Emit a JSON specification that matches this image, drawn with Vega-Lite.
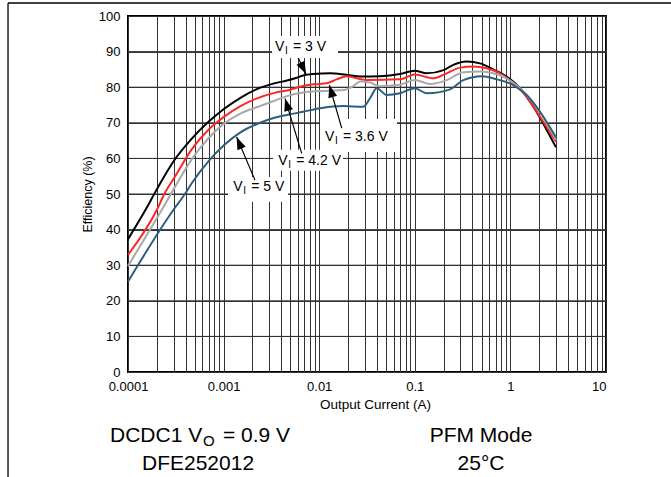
{
  "$schema": "https://vega.github.io/schema/vega-lite/v6.json",
  "width": 478,
  "height": 356,
  "autosize": {"type": "none"},
  "padding": {"left": 128, "top": 16, "right": 65, "bottom": 105},
  "background": "white",
  "config": {
    "font": "Liberation Sans",
    "view": {"stroke": "black", "strokeWidth": 2},
    "axis": {"labelColor": "black", "titleColor": "black", "titleFontWeight": "normal", "labelFont": "Liberation Sans", "titleFont": "Liberation Sans"}
  },
  "datasets": {
    "curves": [
      {"vi": "3 V", "x": 0.0001, "y": 37.3}, {"vi": "3 V", "x": 0.00015, "y": 45.2}, {"vi": "3 V", "x": 0.0002, "y": 51.3}, {"vi": "3 V", "x": 0.0003, "y": 59.2}, {"vi": "3 V", "x": 0.00046, "y": 65.4}, {"vi": "3 V", "x": 0.00069, "y": 70.2}, {"vi": "3 V", "x": 0.001, "y": 73.8}, {"vi": "3 V", "x": 0.0015, "y": 77.0}, {"vi": "3 V", "x": 0.0022, "y": 79.4}, {"vi": "3 V", "x": 0.0033, "y": 81.0}, {"vi": "3 V", "x": 0.0046, "y": 81.9}, {"vi": "3 V", "x": 0.0057, "y": 82.6}, {"vi": "3 V", "x": 0.0068, "y": 83.3}, {"vi": "3 V", "x": 0.0087, "y": 83.7}, {"vi": "3 V", "x": 0.013, "y": 83.9}, {"vi": "3 V", "x": 0.019, "y": 83.5}, {"vi": "3 V", "x": 0.027, "y": 83.0}, {"vi": "3 V", "x": 0.043, "y": 83.1}, {"vi": "3 V", "x": 0.07, "y": 83.7}, {"vi": "3 V", "x": 0.1, "y": 84.6}, {"vi": "3 V", "x": 0.133, "y": 83.9}, {"vi": "3 V", "x": 0.2, "y": 84.8}, {"vi": "3 V", "x": 0.25, "y": 86.2}, {"vi": "3 V", "x": 0.35, "y": 87.2}, {"vi": "3 V", "x": 0.48, "y": 86.7}, {"vi": "3 V", "x": 0.66, "y": 85.0}, {"vi": "3 V", "x": 0.91, "y": 83.0}, {"vi": "3 V", "x": 1.26, "y": 79.7}, {"vi": "3 V", "x": 1.74, "y": 74.5}, {"vi": "3 V", "x": 2.4, "y": 68.0}, {"vi": "3 V", "x": 3.0, "y": 63.1},
      {"vi": "3.6 V", "x": 0.0001, "y": 32.9}, {"vi": "3.6 V", "x": 0.0002, "y": 45.5}, {"vi": "3.6 V", "x": 0.00024, "y": 50.0}, {"vi": "3.6 V", "x": 0.00031, "y": 54.9}, {"vi": "3.6 V", "x": 0.00046, "y": 62.4}, {"vi": "3.6 V", "x": 0.00069, "y": 68.0}, {"vi": "3.6 V", "x": 0.001, "y": 71.6}, {"vi": "3.6 V", "x": 0.0015, "y": 74.7}, {"vi": "3.6 V", "x": 0.0022, "y": 76.8}, {"vi": "3.6 V", "x": 0.0034, "y": 78.4}, {"vi": "3.6 V", "x": 0.005, "y": 79.3}, {"vi": "3.6 V", "x": 0.0063, "y": 80.1}, {"vi": "3.6 V", "x": 0.0087, "y": 80.8}, {"vi": "3.6 V", "x": 0.012, "y": 81.1}, {"vi": "3.6 V", "x": 0.0152, "y": 82.2}, {"vi": "3.6 V", "x": 0.0194, "y": 83.1}, {"vi": "3.6 V", "x": 0.0247, "y": 82.5}, {"vi": "3.6 V", "x": 0.0314, "y": 82.0}, {"vi": "3.6 V", "x": 0.07, "y": 82.2}, {"vi": "3.6 V", "x": 0.1, "y": 83.6}, {"vi": "3.6 V", "x": 0.156, "y": 82.5}, {"vi": "3.6 V", "x": 0.216, "y": 83.9}, {"vi": "3.6 V", "x": 0.297, "y": 85.5}, {"vi": "3.6 V", "x": 0.409, "y": 85.8}, {"vi": "3.6 V", "x": 0.565, "y": 85.3}, {"vi": "3.6 V", "x": 0.778, "y": 83.9}, {"vi": "3.6 V", "x": 1.07, "y": 81.1}, {"vi": "3.6 V", "x": 1.48, "y": 77.3}, {"vi": "3.6 V", "x": 2.04, "y": 71.7}, {"vi": "3.6 V", "x": 3.0, "y": 64.7},
      {"vi": "4.2 V", "x": 0.0001, "y": 29.8}, {"vi": "4.2 V", "x": 0.000225, "y": 45.5}, {"vi": "4.2 V", "x": 0.00031, "y": 52.0}, {"vi": "4.2 V", "x": 0.00046, "y": 59.6}, {"vi": "4.2 V", "x": 0.00069, "y": 65.6}, {"vi": "4.2 V", "x": 0.001, "y": 69.7}, {"vi": "4.2 V", "x": 0.0015, "y": 72.6}, {"vi": "4.2 V", "x": 0.0023, "y": 74.5}, {"vi": "4.2 V", "x": 0.0034, "y": 76.2}, {"vi": "4.2 V", "x": 0.0046, "y": 77.5}, {"vi": "4.2 V", "x": 0.0068, "y": 78.5}, {"vi": "4.2 V", "x": 0.0102, "y": 78.9}, {"vi": "4.2 V", "x": 0.0179, "y": 79.2}, {"vi": "4.2 V", "x": 0.0227, "y": 80.3}, {"vi": "4.2 V", "x": 0.0267, "y": 81.6}, {"vi": "4.2 V", "x": 0.034, "y": 81.3}, {"vi": "4.2 V", "x": 0.043, "y": 80.3}, {"vi": "4.2 V", "x": 0.07, "y": 80.7}, {"vi": "4.2 V", "x": 0.1, "y": 82.0}, {"vi": "4.2 V", "x": 0.144, "y": 80.9}, {"vi": "4.2 V", "x": 0.216, "y": 82.0}, {"vi": "4.2 V", "x": 0.322, "y": 84.2}, {"vi": "4.2 V", "x": 0.481, "y": 84.4}, {"vi": "4.2 V", "x": 0.662, "y": 83.9}, {"vi": "4.2 V", "x": 0.914, "y": 82.5}, {"vi": "4.2 V", "x": 1.26, "y": 79.7}, {"vi": "4.2 V", "x": 1.74, "y": 75.5}, {"vi": "4.2 V", "x": 2.4, "y": 69.9}, {"vi": "4.2 V", "x": 3.0, "y": 65.2},
      {"vi": "5 V", "x": 0.0001, "y": 25.4}, {"vi": "5 V", "x": 0.000298, "y": 45.5}, {"vi": "5 V", "x": 0.000394, "y": 50.0}, {"vi": "5 V", "x": 0.000464, "y": 53.0}, {"vi": "5 V", "x": 0.00069, "y": 59.1}, {"vi": "5 V", "x": 0.001, "y": 63.6}, {"vi": "5 V", "x": 0.0015, "y": 67.3}, {"vi": "5 V", "x": 0.0023, "y": 69.8}, {"vi": "5 V", "x": 0.0034, "y": 71.4}, {"vi": "5 V", "x": 0.0046, "y": 72.2}, {"vi": "5 V", "x": 0.0068, "y": 73.1}, {"vi": "5 V", "x": 0.0102, "y": 74.1}, {"vi": "5 V", "x": 0.0179, "y": 74.7}, {"vi": "5 V", "x": 0.0289, "y": 74.5}, {"vi": "5 V", "x": 0.034, "y": 76.9}, {"vi": "5 V", "x": 0.04, "y": 79.7}, {"vi": "5 V", "x": 0.0508, "y": 77.8}, {"vi": "5 V", "x": 0.07, "y": 78.3}, {"vi": "5 V", "x": 0.1, "y": 79.7}, {"vi": "5 V", "x": 0.133, "y": 78.3}, {"vi": "5 V", "x": 0.234, "y": 79.4}, {"vi": "5 V", "x": 0.322, "y": 82.0}, {"vi": "5 V", "x": 0.501, "y": 83.1}, {"vi": "5 V", "x": 0.719, "y": 82.2}, {"vi": "5 V", "x": 1.07, "y": 80.6}, {"vi": "5 V", "x": 1.48, "y": 77.8}, {"vi": "5 V", "x": 2.04, "y": 73.1}, {"vi": "5 V", "x": 3.0, "y": 65.9}
    ],
    "hgrid": [
      {"x": 0.0001, "x2": 10, "y": 10, "y2": 10}, {"x": 0.0001, "x2": 10, "y": 20, "y2": 20}, {"x": 0.0001, "x2": 10, "y": 30, "y2": 30},
      {"x": 0.0001, "x2": 10, "y": 40, "y2": 40}, {"x": 0.0001, "x2": 10, "y": 50, "y2": 50}, {"x": 0.0001, "x2": 10, "y": 60, "y2": 60},
      {"x": 0.0001, "x2": 10, "y": 70, "y2": 70}, {"x": 0.0001, "x2": 10, "y": 80, "y2": 80}, {"x": 0.0001, "x2": 10, "y": 90, "y2": 90}
    ],
    "boxes": [
      {"x": 0.00321, "x2": 0.01574, "y": 88.2, "y2": 94.4},
      {"x": 0.01019, "x2": 0.0652, "y": 61.8, "y2": 71.1},
      {"x": 0.00329, "x2": 0.01774, "y": 56.5, "y2": 62.4},
      {"x": 0.001112, "x2": 0.00472, "y": 47.8, "y2": 54.8}
    ],
    "labels": [
      {"x": 0.00345, "y": 90.25, "v": "V", "sub": "I", "rest": "= 3 V"},
      {"x": 0.0115, "y": 64.9, "v": "V", "sub": "I", "rest": "= 3.6 V"},
      {"x": 0.00373, "y": 58.1, "v": "V", "sub": "I", "rest": "= 4.2 V"},
      {"x": 0.001262, "y": 50.9, "v": "V", "sub": "I", "rest": "= 5 V"}
    ],
    "arrows": [
      {"x": 0.00728, "y": 83.7, "x2": 0.00604, "y2": 88.2, "angle": 154},
      {"x": 0.01276, "y": 80.6, "x2": 0.0172, "y2": 68.5, "angle": 344},
      {"x": 0.00439, "y": 76.8, "x2": 0.00656, "y2": 61.4, "angle": 343},
      {"x": 0.00137, "y": 66.0, "x2": 0.00213, "y2": 53.9, "angle": 337}
    ],
    "frame": [
      {"x": 0.00000556, "x2": 96, "y": 103.65, "y2": 103.65},
      {"x": 0.00000556, "x2": 0.00000556, "y": 103.65, "y2": -31}
    ],
    "cond": [
      {"x": 0.0000648, "y": -19.66, "a": "DCDC1 V", "sub": "O", "b": "= 0.9 V"}
    ],
    "notes": [
      {"x": 0.00054, "y": -27.6, "t": "DFE252012"},
      {"x": 0.4926, "y": -19.66, "t": "PFM Mode"},
      {"x": 0.4926, "y": -27.6, "t": "25°C"}
    ]
  },
  "encoding": {
    "x": {
      "field": "x", "type": "quantitative",
      "scale": {"type": "log", "domain": [0.0001, 10], "nice": false},
      "axis": {
        "title": "Output Current (A)",
        "values": [0.0001, 0.0002, 0.0003, 0.0004, 0.0005, 0.0006, 0.0007, 0.0008, 0.0009, 0.001, 0.002, 0.003, 0.004, 0.005, 0.006, 0.007, 0.008, 0.009, 0.01, 0.02, 0.03, 0.04, 0.05, 0.06, 0.07, 0.08, 0.09, 0.1, 0.2, 0.3, 0.4, 0.5, 0.6, 0.7, 0.8, 0.9, 1, 2, 3, 4, 5, 6, 7, 8, 9, 10],
        "format": "~g",
        "labelExpr": "indexof(['0.0001','0.001','0.01','0.1','1','10'], datum.label) >= 0 ? datum.label : ''",
        "labelOverlap": false,
        "labelFlush": false,
        "labelAlign": {"condition": {"test": "datum.value >= 10", "value": "right"}, "value": "center"},
        "grid": true, "gridColor": "#333333", "gridWidth": 1, "gridOpacity": 1,
        "ticks": false, "domain": false,
        "labelPadding": 8, "labelFontSize": 13,
        "titleFontSize": 13.5, "titlePadding": 4, "titleX": 247
      }
    },
    "y": {
      "field": "y", "type": "quantitative",
      "scale": {"domain": [0, 100], "nice": false},
      "axis": {
        "title": "Efficiency (%)",
        "values": [0, 10, 20, 30, 40, 50, 60, 70, 80, 90, 100],
        "labelOverlap": false,
        "grid": true, "gridColor": "#333333", "gridWidth": 1, "gridOpacity": 1,
        "ticks": false, "domain": false,
        "labelPadding": 8, "labelFontSize": 13,
        "titleFontSize": 12.5, "titlePadding": 4
      }
    }
  },
  "layer": [
    {
      "data": {"name": "hgrid"},
      "mark": {"type": "rule", "color": "#333333", "strokeWidth": 1},
      "encoding": {"x2": {"field": "x2"}, "y2": {"field": "y2"}}
    },
    {
      "data": {"name": "curves"},
      "mark": {"type": "line", "strokeWidth": 2, "interpolate": "monotone"},
      "encoding": {
        "color": {
          "field": "vi", "type": "nominal",
          "scale": {"domain": ["3 V", "3.6 V", "4.2 V", "5 V"], "range": ["#000000", "#ff2626", "#a9a9a9", "#2b5f7c"]},
          "legend": null
        },
        "order": {"field": "x", "type": "quantitative"}
      }
    },
    {
      "data": {"name": "frame"},
      "mark": {"type": "rule", "color": "black", "strokeWidth": 1.3, "clip": false},
      "encoding": {"x2": {"field": "x2"}, "y2": {"field": "y2"}}
    },
    {
      "data": {"name": "boxes"},
      "mark": {"type": "rect", "color": "white", "clip": false},
      "encoding": {"x2": {"field": "x2"}, "y2": {"field": "y2"}}
    },
    {
      "data": {"name": "arrows"},
      "mark": {"type": "rule", "color": "black", "strokeWidth": 1.2},
      "encoding": {"x2": {"field": "x2"}, "y2": {"field": "y2"}}
    },
    {
      "data": {"name": "arrows"},
      "mark": {"type": "point", "shape": "M0,0L-0.36,1L0.36,1Z", "filled": true, "color": "black", "size": 620, "opacity": 1},
      "encoding": {
        "angle": {"field": "angle", "type": "quantitative", "scale": null}
      }
    },
    {
      "data": {"name": "labels"},
      "mark": {"type": "text", "align": "left", "baseline": "alphabetic", "fontSize": 14, "color": "black", "font": "Liberation Sans"},
      "encoding": {"text": {"field": "v"}}
    },
    {
      "data": {"name": "labels"},
      "mark": {"type": "text", "align": "left", "baseline": "alphabetic", "fontSize": 10, "dx": 10, "dy": 3, "color": "black", "font": "Liberation Sans"},
      "encoding": {"text": {"field": "sub"}}
    },
    {
      "data": {"name": "labels"},
      "mark": {"type": "text", "align": "left", "baseline": "alphabetic", "fontSize": 14, "dx": 18, "color": "black", "font": "Liberation Sans"},
      "encoding": {"text": {"field": "rest"}}
    },
    {
      "data": {"name": "cond"},
      "mark": {"type": "text", "align": "left", "baseline": "alphabetic", "fontSize": 21, "color": "black", "font": "Liberation Sans", "clip": false},
      "encoding": {"text": {"field": "a"}}
    },
    {
      "data": {"name": "cond"},
      "mark": {"type": "text", "align": "left", "baseline": "alphabetic", "fontSize": 15, "dx": 93, "dy": 4, "color": "black", "font": "Liberation Sans", "clip": false},
      "encoding": {"text": {"field": "sub"}}
    },
    {
      "data": {"name": "cond"},
      "mark": {"type": "text", "align": "left", "baseline": "alphabetic", "fontSize": 21, "dx": 113, "color": "black", "font": "Liberation Sans", "clip": false},
      "encoding": {"text": {"field": "b"}}
    },
    {
      "data": {"name": "notes"},
      "mark": {"type": "text", "align": "center", "baseline": "alphabetic", "fontSize": 21, "color": "black", "font": "Liberation Sans", "clip": false},
      "encoding": {"text": {"field": "t"}}
    }
  ]
}
